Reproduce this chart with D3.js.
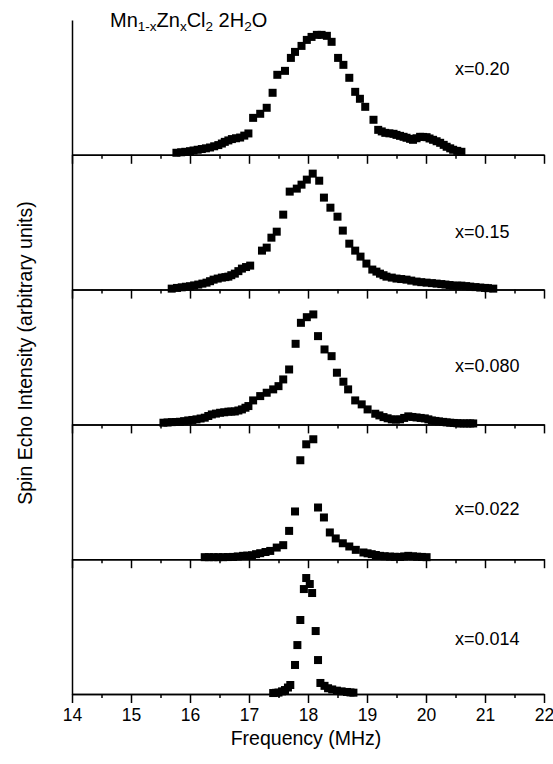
<!DOCTYPE html>
<html>
<head>
<meta charset="utf-8">
<script src="https://cdn.jsdelivr.net/npm/d3@7"></script>
<style>
  body { margin: 0; background: #fff; }
  svg text { font-family: "Liberation Sans", Arial, sans-serif; fill: #000; }
  .axis path, .axis line { stroke: #000; stroke-width: 1.5; }
</style>
</head>
<body>
<div id="chart"></div>
<script>
// Mn(1-x)Zn(x)Cl2·2H2O spin echo spectra, one panel per concentration
var concentrations = ["x=0.20", "x=0.15", "x=0.080", "x=0.022", "x=0.014"];

var freq020 = [15.77, 15.85, 15.92, 16.00, 16.06, 16.13, 16.20, 16.27, 16.34, 16.41, 16.48, 16.54, 16.59, 16.65, 16.71, 16.78, 16.85, 16.92, 16.99, 17.07, 17.19, 17.30, 17.40, 17.48, 17.61, 17.71, 17.78, 17.89, 17.98, 18.06, 18.15, 18.23, 18.32, 18.40, 18.51, 18.60, 18.70, 18.80, 18.88, 18.97, 19.11, 19.19, 19.25, 19.31, 19.38, 19.45, 19.50, 19.56, 19.62, 19.67, 19.73, 19.78, 19.84, 19.90, 19.95, 20.01, 20.06, 20.12, 20.18, 20.24, 20.30, 20.35, 20.41, 20.46, 20.53, 20.60];
var echo020 = [1.7, 2.1, 2.5, 3.0, 3.6, 4.2, 4.8, 5.4, 6.1, 7.1, 8.1, 9.4, 10.8, 12.0, 13.1, 13.8, 14.4, 16.0, 17.8, 30.8, 34.2, 39.2, 51.7, 66.7, 70.0, 80.8, 85.8, 90.8, 95.8, 98.3, 100.0, 100.0, 99.2, 94.2, 80.8, 75.0, 64.2, 52.5, 46.7, 40.0, 29.2, 20.8, 19.5, 18.3, 17.9, 17.5, 16.6, 15.8, 15.0, 14.2, 13.3, 12.5, 13.8, 15.0, 14.9, 14.7, 13.6, 12.5, 11.3, 10.0, 8.3, 6.7, 5.4, 4.2, 3.3, 2.5];

var freq015 = [15.69, 15.78, 15.86, 15.93, 16.00, 16.07, 16.14, 16.21, 16.28, 16.34, 16.40, 16.47, 16.54, 16.60, 16.65, 16.70, 16.76, 16.82, 16.88, 16.95, 17.02, 17.22, 17.30, 17.38, 17.47, 17.58, 17.69, 17.81, 17.89, 17.98, 18.08, 18.19, 18.27, 18.38, 18.50, 18.59, 18.70, 18.80, 18.89, 18.99, 19.09, 19.16, 19.22, 19.28, 19.33, 19.42, 19.50, 19.58, 19.67, 19.75, 19.84, 19.92, 20.01, 20.10, 20.18, 20.26, 20.33, 20.40, 20.46, 20.53, 20.60, 20.68, 20.75, 20.84, 20.92, 21.00, 21.05, 21.14];
var echo015 = [0.8, 1.4, 1.9, 2.4, 2.8, 3.5, 4.2, 5.0, 5.8, 7.0, 8.3, 9.2, 10.0, 10.4, 10.8, 12.0, 13.3, 15.4, 17.5, 18.8, 20.0, 32.5, 35.0, 43.3, 48.3, 62.5, 81.7, 84.2, 87.5, 91.7, 96.7, 90.8, 76.7, 68.3, 60.8, 49.2, 38.3, 32.5, 27.5, 21.7, 16.7, 15.0, 13.3, 12.0, 10.8, 10.0, 9.2, 8.8, 8.3, 7.5, 6.7, 6.2, 5.8, 5.4, 5.0, 4.6, 4.2, 3.8, 3.3, 3.3, 3.3, 2.9, 2.5, 2.1, 1.7, 1.4, 1.2, 0.8];

var freq080 = [15.55, 15.62, 15.69, 15.76, 15.83, 15.90, 15.97, 16.04, 16.11, 16.18, 16.25, 16.31, 16.37, 16.44, 16.51, 16.58, 16.65, 16.70, 16.76, 16.82, 16.88, 16.94, 16.99, 17.07, 17.19, 17.30, 17.41, 17.50, 17.58, 17.68, 17.79, 17.88, 17.98, 18.09, 18.17, 18.28, 18.40, 18.49, 18.60, 18.68, 18.80, 18.91, 19.01, 19.14, 19.21, 19.28, 19.35, 19.42, 19.49, 19.56, 19.63, 19.70, 19.77, 19.84, 19.91, 19.98, 20.04, 20.10, 20.16, 20.22, 20.29, 20.35, 20.41, 20.47, 20.53, 20.58, 20.64, 20.70, 20.75, 20.80];
var echo080 = [1.4, 1.6, 1.9, 2.0, 2.2, 2.7, 3.3, 3.7, 4.2, 4.9, 5.6, 7.0, 8.3, 9.0, 9.7, 10.1, 10.6, 10.7, 10.8, 11.6, 12.5, 13.9, 15.3, 20.0, 23.6, 26.4, 29.2, 31.9, 37.5, 45.8, 67.2, 84.7, 89.4, 91.7, 73.6, 62.5, 56.9, 43.1, 35.6, 29.2, 20.0, 16.7, 12.5, 8.9, 7.5, 6.1, 5.1, 4.2, 4.0, 4.2, 5.4, 6.7, 6.2, 5.8, 5.4, 5.0, 4.2, 3.3, 2.9, 2.5, 2.1, 1.7, 1.4, 1.2, 1.0, 0.8, 0.8, 0.8, 0.8, 0.8];

var freq022 = [16.25, 16.32, 16.40, 16.48, 16.56, 16.64, 16.73, 16.81, 16.90, 16.97, 17.05, 17.12, 17.19, 17.28, 17.36, 17.47, 17.58, 17.68, 17.78, 17.87, 17.97, 18.09, 18.17, 18.27, 18.37, 18.47, 18.59, 18.70, 18.81, 18.94, 19.01, 19.08, 19.15, 19.22, 19.30, 19.39, 19.47, 19.56, 19.63, 19.70, 19.78, 19.85, 19.93, 20.01];
var echo022 = [1.7, 1.7, 1.7, 1.7, 1.7, 1.8, 1.9, 2.3, 2.8, 3.0, 3.3, 4.2, 5.0, 6.0, 6.9, 9.7, 11.7, 23.6, 39.8, 82.5, 95.8, 100.0, 43.1, 34.8, 22.3, 17.3, 13.3, 10.6, 7.8, 5.6, 4.9, 4.2, 3.5, 2.8, 2.5, 2.2, 2.0, 1.9, 2.3, 2.8, 2.4, 2.1, 1.9, 1.7];

var freq014 = [17.41, 17.46, 17.50, 17.56, 17.61, 17.66, 17.70, 17.78, 17.82, 17.87, 17.93, 17.97, 18.03, 18.07, 18.13, 18.17, 18.21, 18.28, 18.34, 18.41, 18.49, 18.57, 18.66, 18.72, 18.77];
var echo014 = [0.8, 1.0, 1.2, 2.2, 3.3, 5.4, 7.5, 24.2, 40.8, 61.7, 87.5, 96.7, 91.7, 84.2, 52.5, 28.3, 9.2, 6.8, 4.8, 3.8, 2.8, 2.2, 1.7, 1.3, 1.1];

var freqTicks = [14, 15, 16, 17, 18, 19, 20, 21, 22];

var spectra = [
  { label: concentrations[0], f: freq020, v: echo020 },
  { label: concentrations[1], f: freq015, v: echo015 },
  { label: concentrations[2], f: freq080, v: echo080 },
  { label: concentrations[3], f: freq022, v: echo022 },
  { label: concentrations[4], f: freq014, v: echo014 }
];

var svgWidth = 553;
var svgHeight = 764;
var plotLeft = 72, plotRight = 544, plotTop = 20, plotBottom = 694;
var panelH = (plotBottom - plotTop) / spectra.length;
// where each "x=..." label sits below its panel top
var labelDrop = [55, 83, 82, 91, 86];

var svg = d3.select("#chart")
  .append("svg")
  .attr("width", svgWidth)
  .attr("height", svgHeight);

var xScale = d3.scaleLinear()
  .domain([14, 22])
  .range([plotLeft, plotRight]);

var minorTicks = d3.range(14.5, 22, 1);

spectra.forEach(function(s, i) {
  var top = plotTop + i * panelH;
  var base = top + panelH;
  var yScale = d3.scaleLinear()
    .domain([0, 112.4])
    .range([base, top]);

  var panel = svg.append("g");

  // minor half-MHz ticks
  panel.append("g")
    .attr("class", "axis")
    .attr("transform", `translate(0,${base})`)
    .call(d3.axisBottom(xScale).tickValues(minorTicks).tickSize(4).tickSizeOuter(0).tickFormat(""));

  // major ticks, labelled only on the bottom panel
  var major = panel.append("g")
    .attr("class", "axis")
    .attr("transform", `translate(0,${base})`)
    .call(d3.axisBottom(xScale).tickValues(freqTicks).tickSize(9).tickSizeOuter(0).tickPadding(6)
      .tickFormat(i === spectra.length - 1 ? d3.format("d") : ""));
  major.selectAll("text")
    .attr("font-size", 17.5)
    .attr("font-family", "Liberation Sans, Arial, sans-serif")
    .attr("fill", "#000");

  var pts = s.f.map(function(f, k) { return { f: f, v: s.v[k] }; });
  var size = 8;
  panel.selectAll("rect.pt")
    .data(pts)
    .enter()
    .append("rect")
    .attr("class", "pt")
    .attr("x", d => xScale(d.f) - size / 2)
    .attr("y", d => yScale(d.v) - size / 2)
    .attr("width", size)
    .attr("height", size)
    .attr("fill", "#000");

  panel.append("text")
    .attr("x", 455)
    .attr("y", top + labelDrop[i])
    .attr("font-size", 18)
    .text(s.label);
});

// shared intensity axis on the left
var yAll = d3.scaleLinear().domain([0, 1]).range([plotBottom, plotTop]);
svg.append("g")
  .attr("class", "axis")
  .attr("transform", `translate(${plotLeft},0)`)
  .call(d3.axisLeft(yAll).tickValues([]).tickSizeOuter(0));

// compound name with subscripts
var title = svg.append("text")
  .attr("x", 110)
  .attr("y", 27)
  .attr("font-size", 20);
title.append("tspan").text("Mn");
title.append("tspan").attr("dy", 4).attr("font-size", 13.5).text("1-x");
title.append("tspan").attr("dy", -4).text("Zn");
title.append("tspan").attr("dy", 4).attr("font-size", 13.5).text("x");
title.append("tspan").attr("dy", -4).text("Cl");
title.append("tspan").attr("dy", 4).attr("font-size", 13.5).text("2");
title.append("tspan").attr("dy", -4).text(" 2H");
title.append("tspan").attr("dy", 4).attr("font-size", 13.5).text("2");
title.append("tspan").attr("dy", -4).text("O");

svg.append("text")
  .attr("x", 306)
  .attr("y", 745)
  .attr("text-anchor", "middle")
  .attr("font-size", 19.5)
  .text("Frequency (MHz)");

svg.append("text")
  .attr("transform", "rotate(-90)")
  .attr("x", -353)
  .attr("y", 32)
  .attr("text-anchor", "middle")
  .attr("font-size", 19.5)
  .text("Spin Echo Intensity (arbitrary units)");
</script>
</body>
</html>
